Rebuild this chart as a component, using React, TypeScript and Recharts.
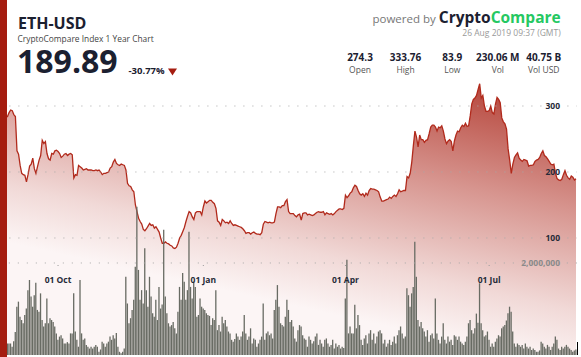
import React from 'react';
import { ComposedChart, Area, Bar, XAxis, YAxis, ReferenceLine } from 'recharts';

// ETH-USD daily close (USD), 26 Aug 2018 -> Aug 2019
const prices: number[] = [
  275, 279, 283, 284, 284, 290, 294, 293, 287, 284,
  232, 227, 210, 198, 196, 195, 185, 196, 209, 212,
  221, 205, 198, 208, 218, 225, 248, 243, 246, 228,
  220, 218, 228, 227, 232, 233, 231, 228, 222, 224,
  227, 228, 225, 227, 228, 226, 191, 196, 195, 210,
  208, 206, 203, 204, 205, 203, 203, 203, 202, 202,
  203, 202, 203, 200, 196, 198, 198, 199, 200, 206,
  208, 215, 219, 213, 211, 210, 212, 211, 210, 203,
  183, 179, 178, 173, 170, 150, 140, 130, 125, 121,
  113, 111, 114, 118, 122, 119, 120, 115, 117, 113,
  109, 100, 92, 92, 94, 92, 91, 89, 88, 85,
  84, 86, 92, 100, 104, 110, 116, 125, 133, 140,
  138, 132, 128, 138, 140, 140, 140, 135, 147, 156,
  153, 155, 157, 157, 154, 152, 145, 126, 124, 119,
  128, 126, 123, 124, 122, 126, 122, 119, 120, 119,
  118, 117, 116, 114, 111, 107, 108, 108, 106, 108,
  109, 107, 106, 106, 105, 108, 121, 125, 124, 123,
  124, 123, 123, 124, 137, 147, 147, 146, 149, 149,
  155, 158, 140, 137, 137, 137, 134, 132, 135, 136,
  127, 137, 138, 138, 135, 136, 135, 134, 135, 137,
  139, 140, 139, 139, 140, 135, 138, 137, 136, 137,
  135, 137, 140, 142, 144, 144, 143, 145, 165, 161,
  164, 168, 170, 176, 180, 178, 172, 167, 165, 167,
  163, 168, 165, 172, 175, 174, 174, 173, 172, 170,
  162, 156, 156, 157, 158, 159, 162, 160, 163, 165,
  163, 167, 173, 170, 171, 172, 172, 193, 191, 198,
  215, 240, 262, 253, 238, 256, 249, 249, 245, 248,
  249, 258, 268, 271, 271, 268, 262, 268, 267, 270,
  262, 250, 243, 247, 249, 246, 232, 247, 256, 262,
  261, 267, 271, 269, 274, 269, 270, 285, 303, 310,
  312, 316, 325, 333.76, 312, 316, 300, 292, 292, 293,
  300, 290, 288, 303, 313, 310, 305, 282, 276, 273,
  265, 235, 218, 198, 212, 222, 226, 229, 221, 218,
  216, 219, 218, 217, 209, 210, 210, 211, 216, 218,
  219, 222, 228, 232, 225, 223, 220, 216, 212, 211,
  212, 198, 190, 188, 187, 189, 196, 202, 195, 191,
  189, 194, 192, 188, 189.89,
];

// daily volume, in millions of ETH
const volumesM: number[] = [
  0.3, 0.3, 0.28, 0.25, 0.25, 0.25, 0.25, 0.18, 0.3, 0.5,
  1.05, 1.16, 0.83, 0.76, 0.69, 0.87, 1.01, 1.41, 1.63, 1.27,
  1.05, 1.3, 1.57, 0.98, 0.94, 1.34, 0.76, 0.62, 0.69, 1.23,
  0.69, 0.8, 0.76, 0.72, 0.62, 0.47, 0.33, 0.4, 0.43, 0.36,
  0.25, 0.25, 0.28, 0.25, 0.47, 0.47, 1.34, 0.51, 0.33, 0.18,
  1.63, 0.47, 0.33, 0.36, 0.22, 0.18, 0.14, 0.18, 0.14, 0.18,
  0.22, 0.18, 0.07, 0.12, 0.29, 0.25, 0.18, 0.25, 0.29, 0.4,
  0.33, 0.43, 0.36, 0.48, 0.18, 0.07, 0.04, 0.07, 0.14, 1.7,
  1.12, 0.69, 0.8, 0.98, 1.2, 1.92, 3.22, 1.85, 1.2, 1.41,
  1.12, 2.32, 1.41, 1.05, 1.7, 1.27, 0.91, 0.83, 1.2, 0.76,
  1.48, 1.01, 1.1, 2.72, 1.27, 0.91, 0.69, 0.62, 0.65, 0.72,
  0.58, 0.47, 0.94, 1.48, 1.2, 1.78, 1.59, 1.2, 1.41, 2.68,
  1.48, 1.23, 1.59, 1.48, 0.83, 0.87, 1.23, 1.05, 1.01, 0.98,
  0.91, 0.87, 0.85, 0.65, 0.8, 0.76, 1.41, 0.54, 0.65, 0.51,
  0.83, 0.69, 0.76, 0.62, 0.51, 0.47, 0.33, 0.29, 0.35, 0.47,
  0.4, 0.33, 0.4, 0.51, 0.87, 0.47, 0.33, 0.4, 0.58, 0.25,
  0.36, 0.33, 0.18, 0.25, 0.33, 0.4, 1.12, 0.33, 0.47, 0.51,
  0.43, 0.47, 0.36, 0.98, 1.2, 1.52, 1.05, 0.69, 0.65, 0.62,
  0.83, 1.2, 0.98, 0.72, 0.76, 0.62, 0.36, 0.29, 0.54, 0.65,
  0.62, 0.43, 0.36, 0.33, 0.18, 0.4, 0.33, 0.25, 0.3, 0.4,
  0.47, 0.22, 0.33, 0.25, 0.18, 0.33, 0.36, 0.25, 0.18, 0.22,
  0.33, 0.14, 0.25, 0.18, 0.22, 0.14, 0.18, 0.15, 1.23, 2.07,
  0.47, 0.62, 0.47, 0.47, 1.09, 0.58, 0.87, 0.65, 0.33, 0.22,
  0.36, 0.43, 0.25, 0.47, 0.54, 0.33, 0.47, 0.25, 0.4, 0.51,
  0.54, 0.47, 0.25, 0.33, 0.18, 0.25, 0.33, 0.22, 0.29, 0.4,
  0.25, 0.43, 0.54, 0.62, 0.47, 0.36, 0.4, 1.45, 1.3, 1.05,
  1.34, 1.48, 2.46, 1.7, 0.76, 0.62, 0.72, 0.58, 0.51, 0.4,
  0.54, 0.29, 0.43, 0.47, 0.36, 1.23, 0.47, 0.33, 0.25, 0.4,
  0.69, 0.33, 0.25, 0.4, 0.29, 0.33, 0.22, 0.43, 0.4, 0.33,
  0.4, 0.29, 0.25, 0.22, 0.29, 0.4, 0.69, 0.76, 0.54, 0.47,
  0.58, 0.9, 0.7, 1.56, 0.69, 0.54, 0.4, 0.43, 0.51, 0.33,
  0.18, 0.25, 0.18, 0.29, 0.36, 0.43, 0.4, 0.58, 0.62, 0.65,
  0.75, 0.91, 1.05, 0.94, 0.51, 0.25, 0.18, 0.25, 0.22, 0.18,
  0.22, 0.14, 0.25, 0.18, 0.14, 0.18, 0.11, 0.14, 0.11, 0.07,
  0.07, 0.1, 0.29, 0.25, 0.18, 0.14, 0.22, 0.18, 0.11, 0.18,
  0.25, 0.4, 0.33, 0.14, 0.11, 0.18, 0.14, 0.18, 0.22, 0.18,
  0.14, 0.11, 0.07, 0.1, 0.12,
];

const xTicks = ['2018-10-01', '2019-01-01', '2019-04-01', '2019-07-01'];
const xTickLabels = ['01 Oct', '01 Jan', '01 Apr', '01 Jul'];
const priceTicks = [100, 200, 300];
const volumeTicks = [2];
const volumeTickLabels = ['2,000,000'];
const statValues = ['274.3', '333.76', '83.9', '230.06 M', '40.75 B'];
const statNames = ['Open', 'High', 'Low', 'Vol', 'Vol USD'];
const statCenters = [360, 405.5, 452.3, 497.8, 543.7];

const START = Date.UTC(2018, 7, 26);
const dates = prices.map((_, i) => new Date(START + i * 86400000).toISOString().slice(0, 10));
const data = dates.map((date, i) => ({ date, price: prices[i], volume: volumesM[i] }));

const FONT = '"Open Sans", "Noto Sans", sans-serif';
const DARK = '#1b2030';
const RED = '#a51d10';

const DateLabel = (props: any) => {
  const { viewBox, value } = props;
  if (!viewBox) return null;
  const x = viewBox.x;
  return (
    <g>
      <rect x={x - 0.5} y={265} width={1} height={1} fill="#9a9a9a" />
      <text x={x} y={283} textAnchor="middle" fontSize={8.5} fontWeight={700} fill="#262b38" fontFamily={FONT}>
        {value}
      </text>
    </g>
  );
};

const AxisLabel = (props: any) => {
  const { viewBox, value, color } = props;
  if (!viewBox) return null;
  return (
    <text x={560} y={viewBox.y + 3} textAnchor="end" fontSize={8.5} fontWeight={700} fill={color} fontFamily={FONT}>
      {value}
    </text>
  );
};

export default function App() {
  return (
    <div style={{ position: 'absolute', left: 0, top: 0, width: 581, height: 357, background: '#fff', overflow: 'hidden' }}>
      <div style={{ position: 'absolute', left: 0, top: 0 }}>
        <ComposedChart width={581} height={357} data={data} margin={{ top: 80, right: 4.2, bottom: 2, left: 0.4 }} barCategoryGap={0}>
          <defs>
            <linearGradient id="ethFill" x1="577" y1="84" x2="517" y2="355" gradientUnits="userSpaceOnUse">
              <stop offset="0" stopColor="#b0372c" stopOpacity={1} />
              <stop offset="0.45" stopColor="#d7958f" stopOpacity={1} />
              <stop offset="0.8" stopColor="#f1d9d7" stopOpacity={1} />
              <stop offset="1" stopColor="#fcf5f5" stopOpacity={1} />
            </linearGradient>
          </defs>
          <XAxis dataKey="date" hide />
          <YAxis yAxisId="p" hide type="number" domain={[-77.3, 339.4]} allowDataOverflow />
          <YAxis yAxisId="v" hide type="number" orientation="right" domain={[0, 5.978]} allowDataOverflow />
          <Area
            yAxisId="p"
            dataKey="price"
            type="linear"
            baseValue="dataMin"
            stroke="#b12a1c"
            strokeWidth={1.3}
            fill="url(#ethFill)"
            fillOpacity={1}
            dot={false}
            activeDot={false}
            isAnimationActive={false}
          />
          <Bar yAxisId="v" dataKey="volume" barSize={1.3} fill="#686b63" isAnimationActive={false} />
          {priceTicks.map((t) => (
            <ReferenceLine key={'p' + t} yAxisId="p" y={t} stroke="#a8a8a8" strokeDasharray="1 8" label={<AxisLabel value={String(t)} color="#262b38" />} />
          ))}
          {volumeTicks.map((t, i) => (
            <ReferenceLine key={'v' + t} yAxisId="v" y={t} stroke="#a8a8a8" strokeDasharray="1 8" label={<AxisLabel value={volumeTickLabels[i]} color="#8a8a8a" />} />
          ))}
          {xTicks.map((d, i) => (
            <ReferenceLine key={'x' + d} yAxisId="p" x={d} stroke="none" strokeOpacity={0} label={<DateLabel value={xTickLabels[i]} />} />
          ))}
        </ComposedChart>
      </div>
      <svg width={581} height={357} style={{ position: 'absolute', left: 0, top: 0, pointerEvents: 'none' }}>
        <rect x={0} y={0} width={7} height={357} fill={RED} />
        <text x={18} y={29} fontSize={16} fontWeight={700} fill={DARK} fontFamily={FONT}>ETH-USD</text>
        <text x={17.5} y={41.5} fontSize={8.4} fill="#444" fontFamily={FONT}>CryptoCompare Index 1 Year Chart</text>
        <text x={17} y={73} fontSize={32} fontWeight={700} fill={DARK} fontFamily={FONT}>189.89</text>
        <text x={128.5} y={74} fontSize={9.5} fontWeight={700} fill={DARK} fontFamily={FONT}>-30.77%</text>
        <polygon points="168,68.5 177,68.5 172.5,75.5" fill={RED} />
        <text x={560.7} y={22.5} textAnchor="end" fontFamily={FONT}>
          <tspan fontSize={11.5} fill="#777">powered by </tspan>
          <tspan fontSize={15.5} fontWeight={700} fill={DARK}>Crypto</tspan>
          <tspan fontSize={15.5} fontWeight={700} fill="#25c862">Compare</tspan>
        </text>
        <text x={560.7} y={35.7} textAnchor="end" fontSize={8.5} fill="#999" fontFamily={FONT}>26 Aug 2019 09:37 (GMT)</text>
        {statValues.map((v, i) => (
          <text key={'sv' + i} x={statCenters[i]} y={61} textAnchor="middle" fontSize={10} fontWeight={700} fill={DARK} fontFamily={FONT}>{v}</text>
        ))}
        {statNames.map((v, i) => (
          <text key={'sn' + i} x={statCenters[i]} y={73.3} textAnchor="middle" fontSize={8.5} fill="#555" fontFamily={FONT}>{v}</text>
        ))}
        <line x1={577.5} y1={342} x2={577.5} y2={355} stroke="#000" strokeWidth={1} />
      </svg>
    </div>
  );
}
